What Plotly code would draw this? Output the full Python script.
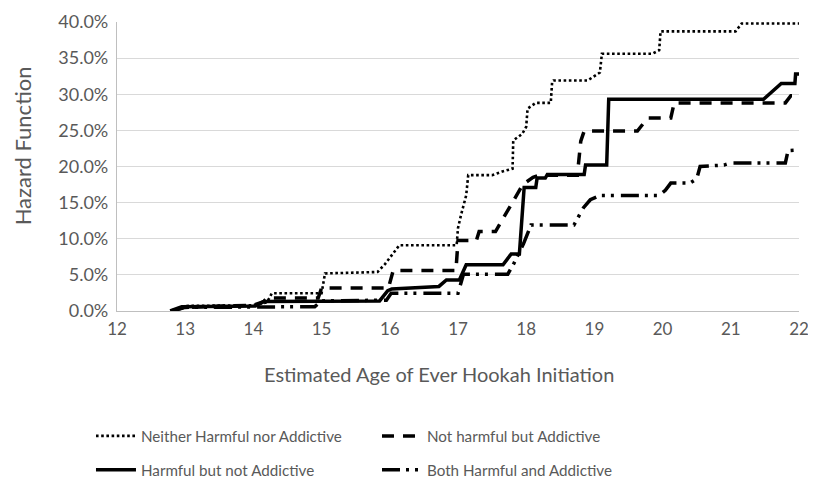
import plotly.graph_objects as go

# ---- data (age, hazard %) ----
neither_x = [12.8, 13.0, 14.0, 14.2, 14.27, 15.0, 15.05, 15.82, 15.93, 16.05, 16.14, 16.98, 17.0, 17.05, 17.12, 17.15,
             17.5, 17.65, 17.80, 17.81, 17.94, 18.0, 18.02, 18.14, 18.36, 18.38, 18.40, 18.9, 19.08, 19.11, 19.85,
             19.95, 19.97, 21.07, 21.16, 22.0]
neither_y = [0, 0.7, 0.8, 1.2, 2.45, 2.45, 5.2, 5.4, 6.5, 7.9, 9.1, 9.1, 11.5, 13.5, 16.0, 18.8,
             18.8, 19.3, 19.7, 23.6, 24.5, 25.5, 28.0, 28.8, 28.8, 31.7, 31.9, 31.9, 33.0, 35.6, 35.6,
             36.1, 38.7, 38.7, 39.8, 39.8]

not_harm_x = [12.8, 13.0, 14.0, 14.15, 14.2, 14.95, 15.0, 15.98, 16.05, 16.97, 17.0, 17.27, 17.31, 17.55, 17.95,
              18.1, 18.2, 18.75, 18.8, 18.85, 19.63, 19.78, 20.12, 20.17, 21.8, 21.88, 22.0]
not_harm_y = [0, 0.5, 0.8, 1.3, 1.8, 1.8, 3.2, 3.2, 5.6, 5.6, 9.75, 9.75, 11.0, 11.0, 17.5,
              18.5, 18.8, 18.8, 23.5, 24.9, 24.9, 26.7, 26.7, 28.8, 28.8, 29.8, 29.8]

harm_x = [12.78, 12.95, 14.03, 14.15, 15.85, 15.97, 16.03, 16.72, 16.83, 17.02, 17.12, 17.66, 17.78, 17.90, 17.97,
          18.14, 18.16, 18.28, 18.31, 18.85, 18.87, 19.18, 19.21, 21.48, 21.74, 21.94, 21.95, 22.0]
harm_y = [0, 0.6, 0.7, 1.3, 1.4, 2.8, 3.05, 3.4, 4.3, 4.3, 6.4, 6.4, 7.9, 7.9, 17.1,
          17.1, 18.4, 18.4, 18.9, 18.9, 20.2, 20.2, 29.3, 29.3, 31.5, 31.5, 32.8, 32.8]

both_x = [12.8, 13.0, 14.9, 15.0, 15.95, 16.02, 17.0, 17.08, 17.73, 17.82, 17.96, 18.07, 18.7, 18.84, 18.94, 19.08,
          19.95, 20.04, 20.12, 20.4, 20.5, 20.55, 20.9, 21.0, 21.8, 21.84, 22.0]
both_y = [0, 0.5, 0.6, 1.4, 1.5, 2.45, 2.45, 5.1, 5.1, 6.6, 9.3, 11.9, 11.9, 14.3, 15.4, 16.0,
          16.0, 16.7, 17.7, 17.7, 18.3, 20.0, 20.2, 20.5, 20.5, 22.2, 22.3]

names = ["Neither Harmful nor Addictive", "Not harmful but Addictive",
         "Harmful but not Addictive", "Both Harmful and Addictive"]
x_ticks = [12, 13, 14, 15, 16, 17, 18, 19, 20, 21, 22]
y_ticks = [0, 0.05, 0.10, 0.15, 0.20, 0.25, 0.30, 0.35, 0.40]

FONT = "Lato"
GREY = "#595959"

fig = go.Figure()
series = [
    (neither_x, neither_y, names[0], dict(width=2.6, dash="2.6px,2.6px"), "legend"),
    (not_harm_x, not_harm_y, names[1], dict(width=3.5, dash="12px,9px"), "legend"),
    (harm_x, harm_y, names[2], dict(width=3.5), "legend2"),
    (both_x, both_y, names[3], dict(width=3.5, dash="18px,6px,3px,6px,3px,7px"), "legend2"),
]
for xs, ys, nm, ln, lg in series:
    fig.add_trace(go.Scatter(x=xs, y=[v / 100 for v in ys], mode="lines", name=nm,
                             line=dict(color="black", **ln), legend=lg))

leg_common = dict(orientation="h", xanchor="left", yanchor="middle", xref="container", yref="container",
                  entrywidth=231, entrywidthmode="pixels", itemwidth=40, bgcolor="rgba(0,0,0,0)",
                  font=dict(family=FONT, size=15.2, color=GREY))

# page has an 8px body margin: figure is 808x478 so that it fills the 816x486 window
fig.update_layout(
    width=808, height=478,
    margin=dict(l=109, r=17, t=14, b=175, autoexpand=False),
    paper_bgcolor="white", plot_bgcolor="white",
    font=dict(family=FONT, size=16, color=GREY),
    showlegend=True,
    legend=dict(x=0.1027, y=0.1046, **leg_common),
    legend2=dict(x=0.1027, y=0.0335, **leg_common),
    xaxis=dict(range=[12, 22], tickvals=x_ticks, showgrid=False, zeroline=False, automargin=False,
               showline=True, linecolor="#BFBFBF", linewidth=1.3, ticks="",
               ticklabelstandoff=2, ticklabeloverflow="allow",
               tickfont=dict(family=FONT, size=17, color=GREY)),
    yaxis=dict(range=[0, 0.40], tickvals=y_ticks, tickformat=".1%", showgrid=True, automargin=False,
               gridcolor="#D9D9D9", gridwidth=1.3, zeroline=False,
               showline=True, linecolor="#BFBFBF", linewidth=1.3, ticks="",
               ticklabelstandoff=4, tickfont=dict(family=FONT, size=18, color=GREY)),
    annotations=[
        dict(text="Estimated Age of Ever Hookah Initiation", xref="paper", yref="paper",
             x=0.472, y=-0.218, xanchor="center", yanchor="middle", showarrow=False,
             font=dict(family=FONT, size=20, color=GREY)),
        dict(text="Hazard Function", xref="paper", yref="paper", textangle=-90,
             x=-0.1373, y=0.571, xanchor="center", yanchor="middle", showarrow=False,
             font=dict(family=FONT, size=22, color=GREY)),
    ],
)

fig.write_html("out.html")
